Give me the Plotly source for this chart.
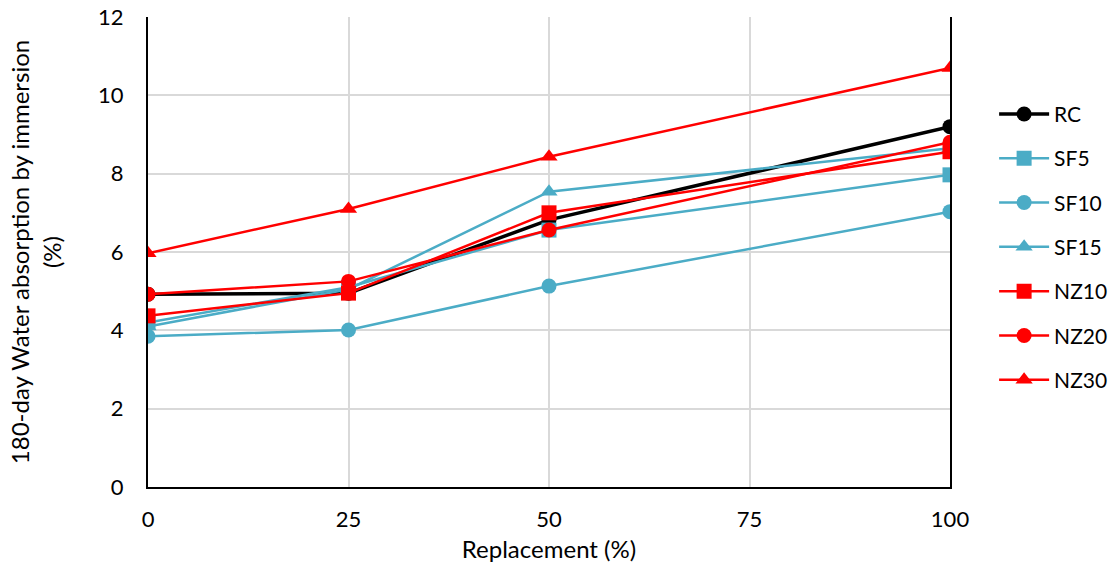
import plotly.graph_objects as go

x = [0, 25, 50, 100]
names = ["RC", "SF5", "SF10", "SF15", "NZ10", "NZ20", "NZ30"]
RC = [4.92, 4.95, 6.82, 9.2]
SF5 = [4.2, 5.1, 6.56, 7.97]
SF10 = [3.85, 4.01, 5.13, 7.03]
SF15 = [4.1, 5.05, 7.54, 8.65]
NZ10 = [4.37, 4.95, 7.0, 8.56]
NZ20 = [4.92, 5.25, 6.56, 8.8]
NZ30 = [5.97, 7.1, 8.43, 10.7]

series = [RC, SF5, SF10, SF15, NZ10, NZ20, NZ30]
colors = ["#000000", "#4bacc6", "#4bacc6", "#4bacc6", "#ff0000", "#ff0000", "#ff0000"]
symbols = ["circle", "square", "circle", "triangle-up", "square", "circle", "triangle-up"]
widths = [3.5, 2.5, 2.5, 2.5, 2.5, 2.5, 2.5]

fig = go.Figure()
for i, (n, y) in enumerate(zip(names, series)):
    fig.add_trace(go.Scatter(
        x=x, y=y, name=n, mode="lines+markers", legendgroup=n,
        line=dict(color=colors[i], width=widths[i]),
        marker=dict(symbol=symbols[i], size=15, color=colors[i]),
    ))

font = "Lato, 'Open Sans', sans-serif"
fig.update_layout(
    width=1115, height=571,
    margin=dict(l=148, r=165, t=17, b=84, autoexpand=False),
    paper_bgcolor="white", plot_bgcolor="white",
    font=dict(family=font, size=21, color="#000000"),
    legend=dict(x=1.055, y=0.51, xanchor="left", yanchor="middle",
                tracegroupgap=14, font=dict(size=21), itemwidth=50),
    xaxis=dict(range=[0, 100], tickvals=[0, 25, 50, 75, 100],
               showgrid=True, gridcolor="#d9d9d9", gridwidth=1.5,
               showline=True, linecolor="black", linewidth=2,
               zeroline=False, ticks="", ticklabelstandoff=12,
               tickfont=dict(size=22),
               title=dict(text="Replacement (%)", font=dict(size=24), standoff=10)),
    yaxis=dict(range=[0, 12], dtick=2,
               showgrid=True, gridcolor="#d9d9d9", gridwidth=1.5,
               showline=True, linecolor="black", linewidth=2, mirror=True,
               zeroline=False, ticks="", ticklabelstandoff=18,
               tickfont=dict(size=22),
               title=dict(text="180-day Water absorption by immersion<br>(%)",
                          font=dict(size=24), standoff=30)),
)
fig.write_html("out.html")
